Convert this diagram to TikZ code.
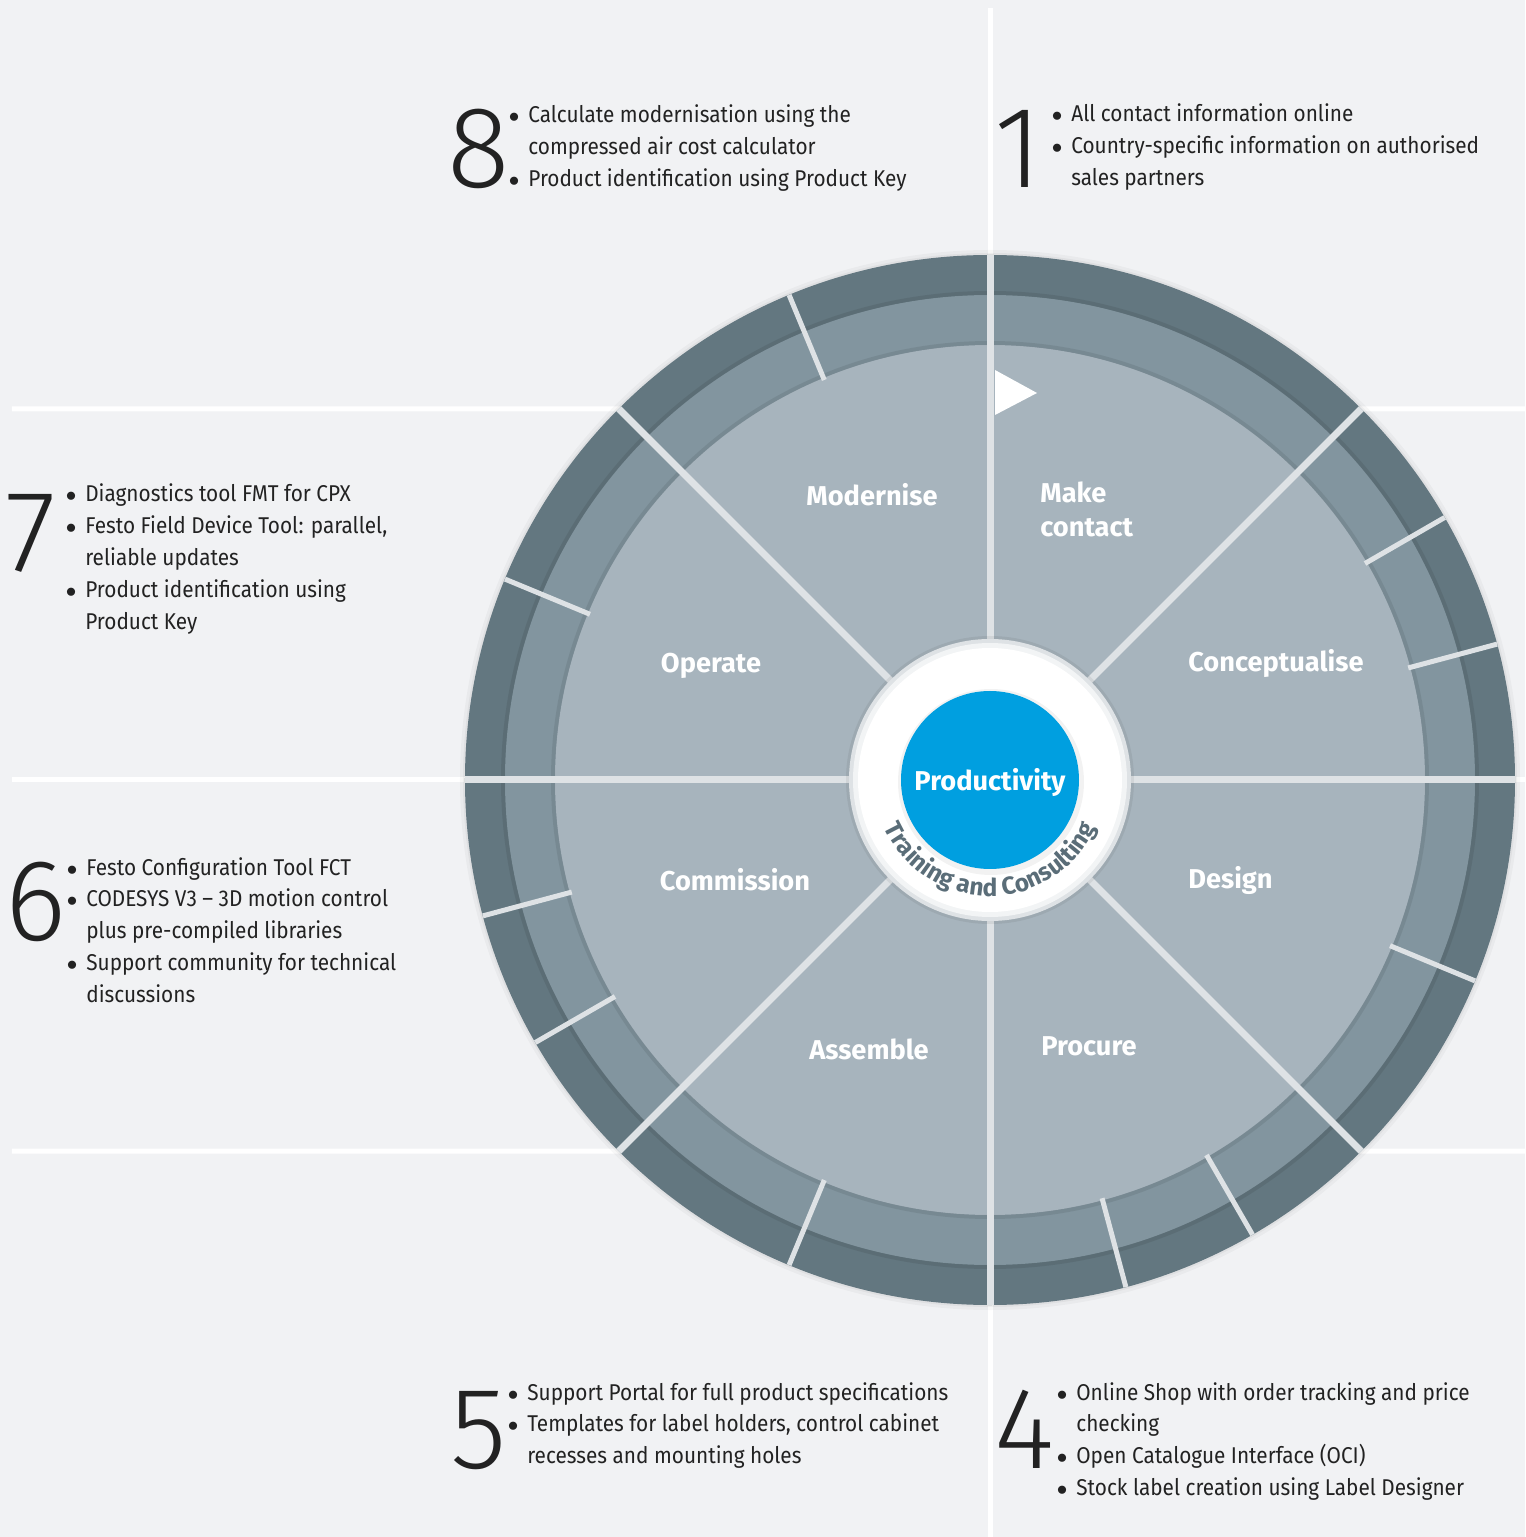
\documentclass[tikz,border=0pt]{standalone}
\usepackage{fontspec}
\setmainfont{Fira Sans}
\newfontfamily\numfont{Fira Sans Light}
\newfontfamily\bodyfont[FakeStretch=0.91]{Fira Sans}
\usetikzlibrary{decorations.text}

\definecolor{bg}{HTML}{F1F2F4}
\definecolor{sectorlight}{HTML}{A7B4BD}
\definecolor{ringmid}{HTML}{82959F}
\definecolor{ringdark}{HTML}{637780}
\definecolor{festoblue}{HTML}{009FE0}
\definecolor{bodytext}{HTML}{222222}
\definecolor{ringtext}{HTML}{5A6D78}
\definecolor{sepgray}{HTML}{DEE2E5}

\tikzset{
  sepline/.style={white, line width=0.1cm},
  spoke/.style={sepgray, line width=0.14cm},
  tick/.style={sepgray, line width=0.1cm},
  sector/.style={text=white, font=\fontsize{15.5}{19.4}\selectfont\bfseries, align=left, inner sep=0pt},
  bignum/.style={font=\numfont\fontsize{66}{66}\selectfont, text=bodytext, inner sep=0pt, anchor=base west},
  info/.style={font=\bodyfont\fontsize{13}{18.2}\selectfont, text=bodytext, inner sep=0pt, anchor=base west},
}
\newcommand{\bul}{\makebox[0.34cm][l]{\hspace{-0.05cm}$\bullet$}}

\begin{document}
\begin{tikzpicture}[x=0.02cm, y=0.02cm]
  \useasboundingbox (-990,-757) rectangle (535,780);
  \fill[bg] (-990,-757) rectangle (535,780);

  \draw[sepline] (0,772) -- (0,-757);
  \draw[sepline] (-978,0) -- (535,0);
  \draw[sepline] (-978,371) -- (135:525) -- (-45:525) -- (535,-371);
  \draw[sepline] (-978,-371) -- (225:525) -- (45:525) -- (535,371);

  \fill[black, opacity=.03] (0,0) circle[radius=530];
  \fill[black, opacity=.04] (0,0) circle[radius=527];
  \fill[ringdark] (0,0) circle[radius=525];
  \fill[ringmid] (0,0) circle[radius=485];
  \draw[black, opacity=.08, line width=0.08cm] (0,0) circle[radius=487];
  \fill[sectorlight] (0,0) circle[radius=435];
  \draw[black, opacity=.08, line width=0.08cm] (0,0) circle[radius=437];

  \foreach \a in {15,30,112.5,157.5,195,210,247.5,285,300,337.5}
    \draw[tick] (\a:433) -- (\a:525);
  \foreach \a in {0,45,...,315}
    \draw[spoke] (\a:130) -- (\a:525);

  \fill[white] (5,410) -- (47,387) -- (5,365) -- cycle;

  \fill[black, opacity=.06] (0,0) circle[radius=144];
  \fill[sepgray] (0,0) circle[radius=141];
  \fill[white!60!sepgray] (0,0) circle[radius=137];
  \fill[white] (0,0) circle[radius=132];
  \fill[black, opacity=.05] (1,-2) circle[radius=93];
  \fill[festoblue] (0,0) circle[radius=89];

  \node[text=white, font=\fontsize{15.5}{16}\selectfont\bfseries, inner sep=0pt] (productivity) at (0,-2) {Productivity};
  \path[decorate, decoration={text along path, text align=center, text color=ringtext,
    text={|\bfseries\fontsize{14}{14}\selectfont|Training and Consulting}}]
    (198:116) arc[start angle=198, end angle=342, radius=116];

  \node[sector] (modernise) at (-118,285) {Modernise};
  \node[sector, anchor=west] (makecontact) at (50,271) {Make\\contact};
  \node[sector, anchor=west] (conceptualise) at (198,117) {Conceptualise};
  \node[sector] (operate) at (-279,114) {Operate};
  \node[sector] (commission) at (-255,-100) {Commission};
  \node[sector, anchor=west] (design) at (198,-100) {Design};
  \node[sector] (assemble) at (-121,-269) {Assemble};
  \node[sector, anchor=west] (procure) at (51,-266) {Procure};

  \node[bignum] (num8) at (-543,592) {8};
  \node[bignum] (num1) at (4,592) {1};
  \node[bignum] (num7) at (-985,208) {7};
  \node[bignum] (num6) at (-985,-160) {6};
  \node[bignum] (num5) at (-540,-688) {5};
  \node[bignum] (num4) at (4,-688) {4};

  \node[info] (info8) at (-479,657) {\begin{tabular}[t]{@{}l@{}l@{}}
    \bul & Calculate modernisation using the\\
         & compressed air cost calculator\\
    \bul & Product identification using Product Key
  \end{tabular}};
  \node[info] (info1) at (64,658) {\begin{tabular}[t]{@{}l@{}l@{}}
    \bul & All contact information online\\
    \bul & Country-specific information on authorised\\
         & sales partners
  \end{tabular}};
  \node[info] (info7) at (-922,278) {\begin{tabular}[t]{@{}l@{}l@{}}
    \bul & Diagnostics tool FMT for CPX\\
    \bul & Festo Field Device Tool: parallel,\\
         & reliable updates\\
    \bul & Product identification using\\
         & Product Key
  \end{tabular}};
  \node[info] (info6) at (-921,-95) {\begin{tabular}[t]{@{}l@{}l@{}}
    \bul & Festo Configuration Tool FCT\\
    \bul & CODESYS V3 – 3D motion control\\
         & plus pre-compiled libraries\\
    \bul & Support community for technical\\
         & discussions
  \end{tabular}};
  \node[info] (info5) at (-480,-620) {\begin{tabular}[t]{@{}l@{}l@{}}
    \bul & Support Portal for full product specifications\\
    \bul & Templates for label holders, control cabinet\\
         & recesses and mounting holes
  \end{tabular}};
  \node[info] (info4) at (69,-620) {\begin{tabular}[t]{@{}l@{}l@{}}
    \bul & Online Shop with order tracking and price\\
         & checking\\
    \bul & Open Catalogue Interface (OCI)\\
    \bul & Stock label creation using Label Designer
  \end{tabular}};
\end{tikzpicture}
\end{document}
